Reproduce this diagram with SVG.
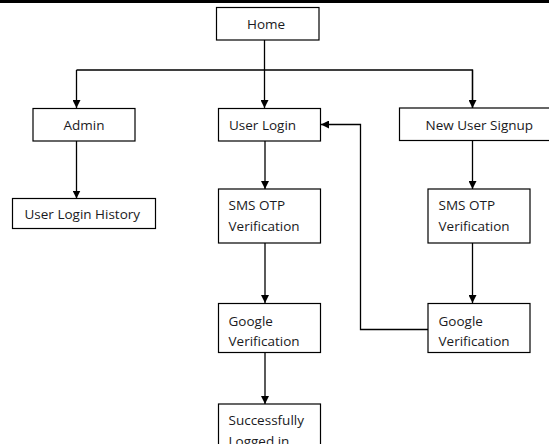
<svg xmlns="http://www.w3.org/2000/svg" width="549" height="444" viewBox="0 0 549 444">
  <style>
    .box { fill: #ffffff; stroke: #000000; stroke-width: 1.2; }
    .lbl { font-family: "Open Sans", "Liberation Sans", sans-serif; font-size: 13.5px; fill: #1a1a22; }
    .mid { text-anchor: middle; }
    .wire { fill: none; stroke: #000000; stroke-width: 1.3; }
  </style>
  <defs>
    <marker id="arrow" viewBox="0 0 10 10" refX="10" refY="5" markerWidth="8" markerHeight="8" markerUnits="userSpaceOnUse" orient="auto">
      <path d="M0,0 L10,5 L0,10 z" fill="#000000"/>
    </marker>
  </defs>
  <rect width="549" height="444" fill="#ffffff"/>
  <rect x="0" y="0" width="549" height="3" fill="#000000"/>

  <g id="connectors">
    <path class="wire" d="M264.5,40 V108" marker-end="url(#arrow)"/>
    <path class="wire" d="M76.5,70 H472.5 V108"/>
    <path class="wire" d="M76.5,70 V108" marker-end="url(#arrow)"/>
    <path class="wire" d="M472.5,70 V108" marker-end="url(#arrow)"/>
    <path class="wire" d="M76.5,141 V198.5" marker-end="url(#arrow)"/>
    <path class="wire" d="M265,141 V189" marker-end="url(#arrow)"/>
    <path class="wire" d="M265,243 V303" marker-end="url(#arrow)"/>
    <path class="wire" d="M265,352 V404" marker-end="url(#arrow)"/>
    <path class="wire" d="M472.5,141 V189" marker-end="url(#arrow)"/>
    <path class="wire" d="M472.5,243 V303" marker-end="url(#arrow)"/>
    <path class="wire" d="M428,329.5 H360.5 V124.5 H321" marker-end="url(#arrow)"/>
  </g>

  <g id="home">
    <rect class="box" x="216.5" y="7.5" width="102.5" height="32.5"/>
    <text class="lbl mid" x="266" y="28.5">Home</text>
  </g>
  <g id="admin">
    <rect class="box" x="33" y="108.5" width="102" height="32.5"/>
    <text class="lbl mid" x="84" y="130">Admin</text>
  </g>
  <g id="user-login-history">
    <rect class="box" x="12.5" y="198.5" width="143" height="30"/>
    <text class="lbl" x="24.5" y="219">User Login History</text>
  </g>
  <g id="user-login">
    <rect class="box" x="218.5" y="108.5" width="102" height="32.5"/>
    <text class="lbl" x="229" y="130">User Login</text>
  </g>
  <g id="new-user-signup">
    <rect class="box" x="399.5" y="108" width="160" height="32.5"/>
    <text class="lbl" x="425.5" y="130">New User Signup</text>
  </g>
  <g id="login-sms-otp">
    <rect class="box" x="218.5" y="189" width="102" height="54"/>
    <text class="lbl" x="228.5" y="210">SMS OTP</text>
    <text class="lbl" x="228.5" y="231">Verification</text>
  </g>
  <g id="signup-sms-otp">
    <rect class="box" x="428" y="189" width="102" height="54"/>
    <text class="lbl" x="438.5" y="210">SMS OTP</text>
    <text class="lbl" x="438.5" y="231">Verification</text>
  </g>
  <g id="login-google">
    <rect class="box" x="218.5" y="303.5" width="102" height="49"/>
    <text class="lbl" x="228.5" y="325.5">Google</text>
    <text class="lbl" x="228.5" y="346">Verification</text>
  </g>
  <g id="signup-google">
    <rect class="box" x="428" y="303.5" width="102" height="49"/>
    <text class="lbl" x="438.5" y="325.5">Google</text>
    <text class="lbl" x="438.5" y="346">Verification</text>
  </g>
  <g id="logged-in">
    <rect class="box" x="218.5" y="404" width="102" height="60"/>
    <text class="lbl" x="228.5" y="425">Successfully</text>
    <text class="lbl" x="228.5" y="445.5">Logged in</text>
  </g>
</svg>
